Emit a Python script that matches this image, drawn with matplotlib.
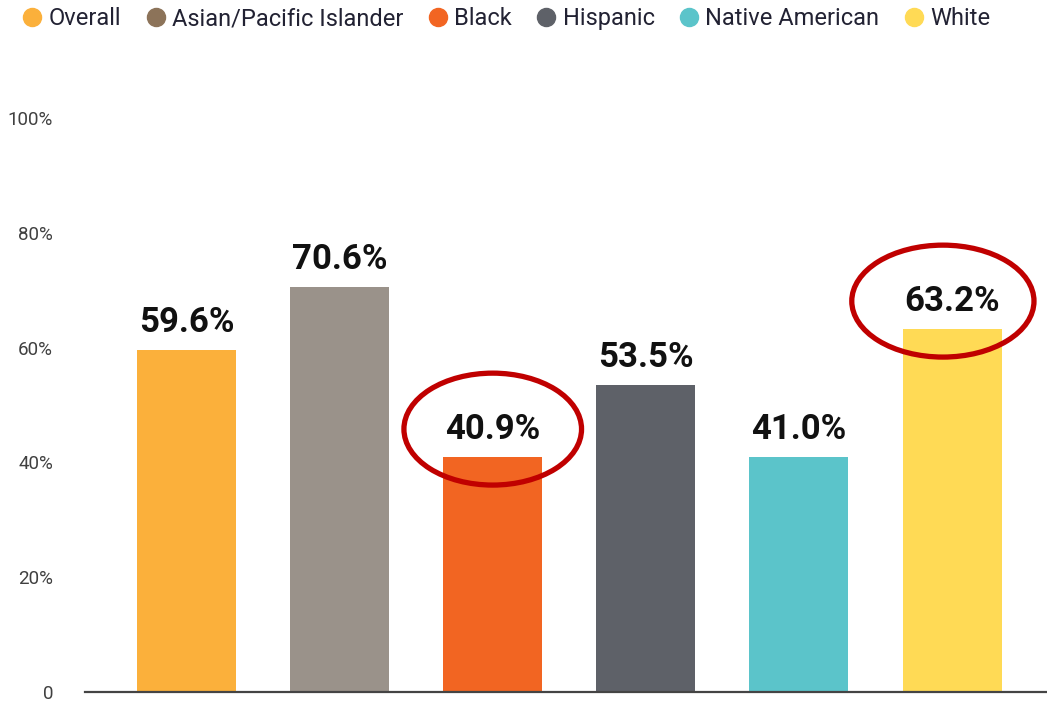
import matplotlib
matplotlib.use("Agg")
import matplotlib.pyplot as plt
from matplotlib.patches import Ellipse
from matplotlib.lines import Line2D

categories = ["Overall", "Asian/Pacific Islander", "Black", "Hispanic", "Native American", "White"]
values = [59.6, 70.6, 40.9, 53.5, 41.0, 63.2]
yticks = [0, 20, 40, 60, 80, 100]
ytick_labels = ["0", "20%", "40%", "60%", "80%", "100%"]
highlighted = ["Black", "White"]

bar_colors = ["#FBB03B", "#9A928A", "#F26522", "#5E6168", "#5BC4CA", "#FFDA55"]
legend_colors = ["#FBB03B", "#8C7359", "#F26522", "#5E6168", "#5BC4CA", "#FFDA55"]

plt.rcParams["font.family"] = ["Roboto", "DejaVu Sans"]

W, H = 1047, 706
fig = plt.figure(figsize=(W / 100, H / 100), dpi=100)
ax = fig.add_axes([85 / W, 14 / H, (W - 85) / W, 574 / H])

x = list(range(len(categories)))
ax.bar(x, values, width=0.647, color=bar_colors, zorder=2)
ax.set_xlim(-0.663, 5.62)
ax.set_ylim(0, 100)

for xi, v in zip(x, values):
    ax.annotate(f"{v:.1f}%", (xi, v), xytext=(0, 8), textcoords="offset points",
                ha="center", va="bottom", fontsize=25, fontweight="bold", color="#111111")

for name in highlighted:
    i = categories.index(name)
    v = values[i]
    dx = 0 if name == "Black" else -0.06
    e = Ellipse((i + dx, v + 4.9), width=1.16 if name == "Black" else 1.19, height=19.5,
                fill=False, edgecolor="#C00000", linewidth=3.8, zorder=5, clip_on=False)
    ax.add_patch(e)

ax.set_yticks(yticks)
ax.set_yticklabels(ytick_labels)
ax.tick_params(axis="y", length=0, pad=23, labelsize=13.5, labelcolor="#404040")
ax.set_xticks([])
for s in ["top", "right", "left"]:
    ax.spines[s].set_visible(False)
ax.spines["bottom"].set_color("#444444")
ax.spines["bottom"].set_linewidth(1.6)

handles = [Line2D([], [], marker="o", linestyle="none", markersize=13,
                  markerfacecolor=c, markeredgecolor=c) for c in legend_colors]
fig.legend(handles, categories, loc="upper left", bbox_to_anchor=(-0.003, 1.02), ncol=6,
           frameon=False, fontsize=17, handletextpad=0.1, columnspacing=0.85,
           handlelength=1.2, labelcolor="#222233")

fig.savefig("out.png", dpi=100)
